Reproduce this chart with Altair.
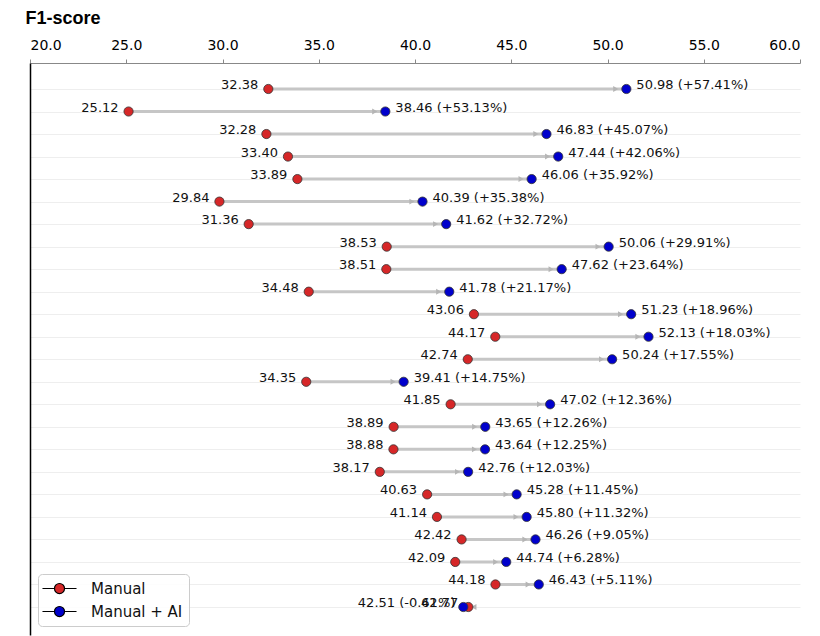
import altair as alt
import pandas as pd

# ---- data (top row first) ----
manual = [32.38, 25.12, 32.28, 33.40, 33.89, 29.84, 31.36, 38.53, 38.51, 34.48,
          43.06, 44.17, 42.74, 34.35, 41.85, 38.89, 38.88, 38.17, 40.63, 41.14,
          42.42, 42.09, 44.18, 42.77]
manual_ai = [50.98, 38.46, 46.83, 47.44, 46.06, 40.39, 41.62, 50.06, 47.62, 41.78,
             51.23, 52.13, 50.24, 39.41, 47.02, 43.65, 43.64, 42.76, 45.28, 45.80,
             46.26, 44.74, 46.43, 42.51]
pct_change = [57.41, 53.13, 45.07, 42.06, 35.92, 35.38, 32.72, 29.91, 23.64, 21.17,
              18.96, 18.03, 17.55, 14.75, 12.36, 12.26, 12.25, 12.03, 11.45, 11.32,
              9.05, 6.28, 5.11, -0.61]
series_names = ["Manual", "Manual + AI"]
series_colors = ["#d62728", "#0000cc"]
x_ticks = [20, 25, 30, 35, 40, 45, 50, 55, 60]

n = len(manual)
rows = list(range(n))
sign = [1 if a >= m else -1 for m, a in zip(manual, manual_ai)]
df = pd.DataFrame({
    "row": rows,
    "manual": manual,
    "ai": manual_ai,
    "pct": pct_change,
    "sign": sign,
})
df["manual_label"] = [f"{m:.2f}" for m in manual]
df["ai_label"] = [f"{a:.2f} ({p:+.2f}%)" for a, p in zip(manual_ai, pct_change)]
df["head"] = [a - s * 0.55 for a, s in zip(manual_ai, sign)]
df["ang"] = [0 if s > 0 else 180 for s in sign]

pts = pd.DataFrame({
    "row": rows + rows,
    "value": manual + manual_ai,
    "series": [series_names[0]] * n + [series_names[1]] * n,
})

W, H = 770, 572
y_dom = [-1.154, 24.243]

x_enc = lambda f: alt.X(
    f, scale=alt.Scale(domain=[20, 60], nice=False, zero=False),
    axis=alt.Axis(
        orient="top", values=x_ticks, format=".1f", title="F1-score",
        titleFont="Liberation Sans", titleFontSize=18, titleFontWeight="bold",
        titleAnchor="start", titleAlign="left", titleAngle=0,
        titleX=-5, titleY=-40, titleBaseline="alphabetic", titleColor="black",
        labelFontSize=14, labelColor="black", labelPadding=7,
        tickSize=4, tickColor="#888888", domainColor="#888888", domainWidth=1.2,
        grid=False, labelFont="DejaVu Sans",
    ),
)
y_enc = alt.Y(
    "row:Q", scale=alt.Scale(domain=y_dom, reverse=True, nice=False, zero=False),
    axis=alt.Axis(
        values=rows, labels=False, ticks=False, title=None,
        domainColor="black", domainWidth=1.5,
        grid=True, gridColor="#eeeeee", gridWidth=1,
    ),
)

base = alt.Chart(df)

lines = base.mark_rule(color="#c6c6c6", strokeWidth=3).encode(
    x=x_enc("manual:Q"), x2="ai:Q", y=y_enc)

heads = base.mark_point(shape="triangle-right", filled=True, color="#b5b5b5",
                        size=35, opacity=1).encode(
    x=x_enc("head:Q"), y=y_enc, angle=alt.Angle("ang:Q", scale=None))

dots = alt.Chart(pts).mark_point(filled=True, size=85, stroke="#333333",
                                 strokeWidth=0.8, opacity=1).encode(
    x=x_enc("value:Q"), y=y_enc,
    color=alt.Color("series:N",
                    scale=alt.Scale(domain=series_names, range=series_colors),
                    legend=alt.Legend(title=None)),
)

lab_m = base.mark_text(align="right", baseline="middle", dx=-10, dy=-4,
                       fontSize=13, color="#111111").encode(
    x=x_enc("manual:Q"), y=y_enc, text="manual_label:N")

lab_ai_pos = base.transform_filter("datum.sign > 0").mark_text(
    align="left", baseline="middle", dx=10, dy=-4, fontSize=13,
    color="#111111").encode(x=x_enc("ai:Q"), y=y_enc, text="ai_label:N")

lab_ai_neg = base.transform_filter("datum.sign < 0").mark_text(
    align="right", baseline="middle", dx=-8, dy=-4, fontSize=13,
    color="#111111").encode(x=x_enc("ai:Q"), y=y_enc, text="ai_label:N")

legend_path = ("M-2.27,0L-0.67,0M0.67,0L2.27,0"
               "M0.67,0A0.67,0.67,0,1,1,-0.67,0A0.67,0.67,0,1,1,0.67,0Z")

chart = alt.layer(lines, heads, dots, lab_m, lab_ai_pos, lab_ai_neg).properties(
    width=W, height=H,
    autosize=alt.AutoSizeParams(type="none"),
    padding={"left": 22, "top": 55, "right": 12, "bottom": 1},
).configure(
    font="DejaVu Sans",
    view=alt.ViewConfig(stroke="transparent"),
    style={"cell": {"stroke": "transparent"}},
    axisRight=alt.AxisConfig(domainOpacity=0, tickOpacity=0, labelOpacity=0),
    axisBottom=alt.AxisConfig(domainColor="#999999", tickOpacity=0, labelOpacity=0),
    legend=alt.LegendConfig(
        orient="none", legendX=8, legendY=511,
        fillColor="rgba(255,255,255,0.85)", strokeColor="#cccccc", cornerRadius=4,
        padding=6, rowPadding=6,
        symbolType=legend_path, symbolSize=225, symbolStrokeColor="black",
        symbolStrokeWidth=1.2, symbolOffset=7, labelOffset=23,
        labelFontSize=15, labelFont="DejaVu Sans", labelColor="#111111",
    ),
)

chart.save("out.html", embed_options={"renderer": "svg", "actions": False})
